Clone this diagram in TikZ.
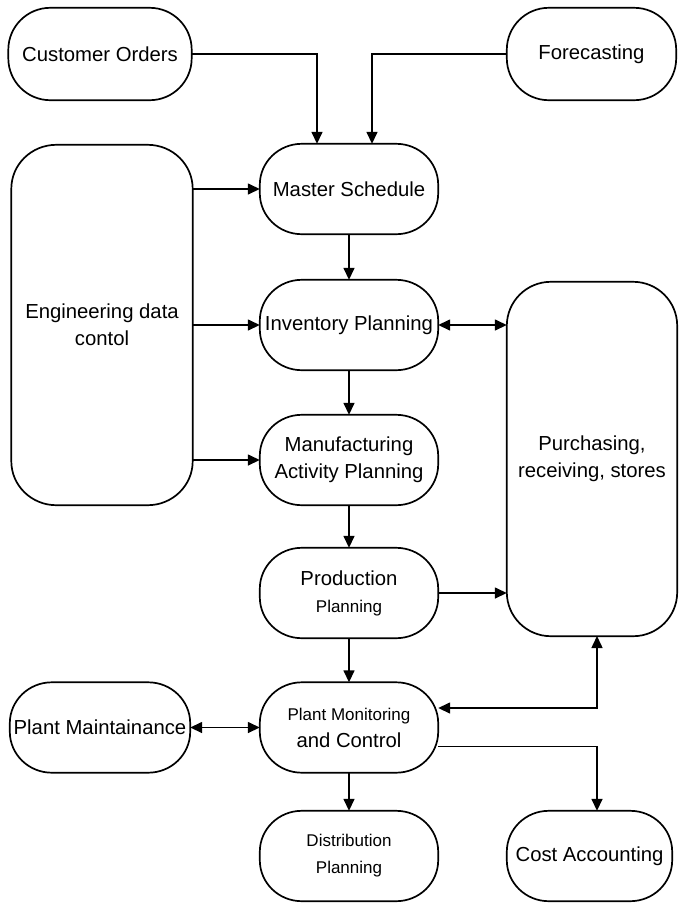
\documentclass[tikz,border=0pt]{standalone}
\usepackage{fontspec}
\setmainfont{Liberation Sans}
\usetikzlibrary{arrows.meta}
\newcommand\blob[3]{%
  \draw[boxline] ([xshift=#2pt]#1.north west) -- ([xshift=-#2pt]#1.north east)
    arc[start angle=90,end angle=0,x radius=#2pt,y radius=#3pt]
    -- ([yshift=#3pt]#1.south east)
    arc[start angle=0,end angle=-90,x radius=#2pt,y radius=#3pt]
    -- ([xshift=#2pt]#1.south west)
    arc[start angle=270,end angle=180,x radius=#2pt,y radius=#3pt]
    -- ([yshift=-#3pt]#1.north west)
    arc[start angle=180,end angle=90,x radius=#2pt,y radius=#3pt] -- cycle;}
\begin{document}
\begin{tikzpicture}[x=1pt,y=1pt,
  boxline/.style={line width=1.7pt,line join=round},
  blk/.style={inner sep=0pt,align=center,font=\fontsize{20.3}{27}\selectfont},
  sm/.style={font=\fontsize{17}{27}\selectfont},
  arr/.style={line width=1.5pt,-{Triangle[length=12pt,width=11pt]}},
  dbl/.style={line width=1.5pt,{Triangle[length=12pt,width=11pt]}-{Triangle[length=12pt,width=11pt]}}]
\useasboundingbox[fill=white] (0,0) rectangle (678,-903);
% nodes
\node[blk,minimum width=183pt,minimum height=92pt] (cust) at (100,-54) {Customer Orders};
\node[blk,minimum width=169pt,minimum height=92pt] (fore) at (591.5,-54) {Forecasting};
\node[blk,minimum width=178pt,minimum height=90pt] (master) at (349,-189) {Master Schedule};
\node[blk,minimum width=181pt,minimum height=360pt] (eng) at (102,-325) {Engineering data\\contol};
\node[blk,minimum width=178pt,minimum height=90pt] (inv) at (349,-325) {Inventory Planning};
\node[blk,minimum width=170pt,minimum height=354pt] (purch) at (592,-459) {Purchasing,\\receiving, stores};
\node[blk,minimum width=178pt,minimum height=90pt] (manu) at (349,-460) {Manufacturing\\Activity Planning};
\node[blk,minimum width=178pt,minimum height=90pt] (prod) at (349,-593) {Production\\{\fontsize{17}{20}\selectfont Planning}};
\node[blk,minimum width=178pt,minimum height=90pt] (mon) at (349,-727.5) {{\fontsize{17}{20}\selectfont Plant Monitoring}\\and Control};
\node[blk,minimum width=180pt,minimum height=90pt] (maint) at (100,-727.5) {Plant Maintainance};
\node[blk,sm,minimum width=178pt,minimum height=90pt] (dist) at (349,-856) {Distribution\\Planning};
\node[blk,minimum width=165pt,minimum height=90pt] (cost) at (589.5,-856) {Cost Accounting};
% outlines
\blob{cust}{42}{42}
\blob{fore}{42}{42}
\blob{master}{42}{41}
\blob{eng}{45}{44}
\blob{inv}{42}{41}
\blob{purch}{44}{44}
\blob{manu}{42}{41}
\blob{prod}{42}{41}
\blob{mon}{42}{41}
\blob{maint}{42}{41}
\blob{dist}{42}{41}
\blob{cost}{42}{41}
% connectors
\coordinate (pc) at (597,-636);
\draw[arr] (cust.east) -| ([xshift=-32pt]master.north);
\draw[arr] (fore.west) -| ([xshift=23pt]master.north);
\draw[arr] (eng.east |- master.west) -- (master.west);
\draw[arr] (eng.east |- inv.west) -- (inv.west);
\draw[arr] (eng.east |- manu.west) -- (manu.west);
\draw[arr] (master.south) -- (inv.north);
\draw[arr] (inv.south) -- (manu.north);
\draw[arr] (manu.south) -- (prod.north);
\draw[arr] (prod.south) -- (mon.north);
\draw[arr] (mon.south) -- (dist.north);
\draw[dbl] (inv.east) -- (inv.east -| purch.west);
\draw[arr] (prod.east) -- (prod.east -| purch.west);
\draw[dbl] (maint.east) -- (mon.west);
\draw[dbl] ([yshift=19.5pt]mon.east) -| (pc);
\draw[arr] ([yshift=-19pt]mon.east) -| (pc |- cost.north);
\end{tikzpicture}
\end{document}
